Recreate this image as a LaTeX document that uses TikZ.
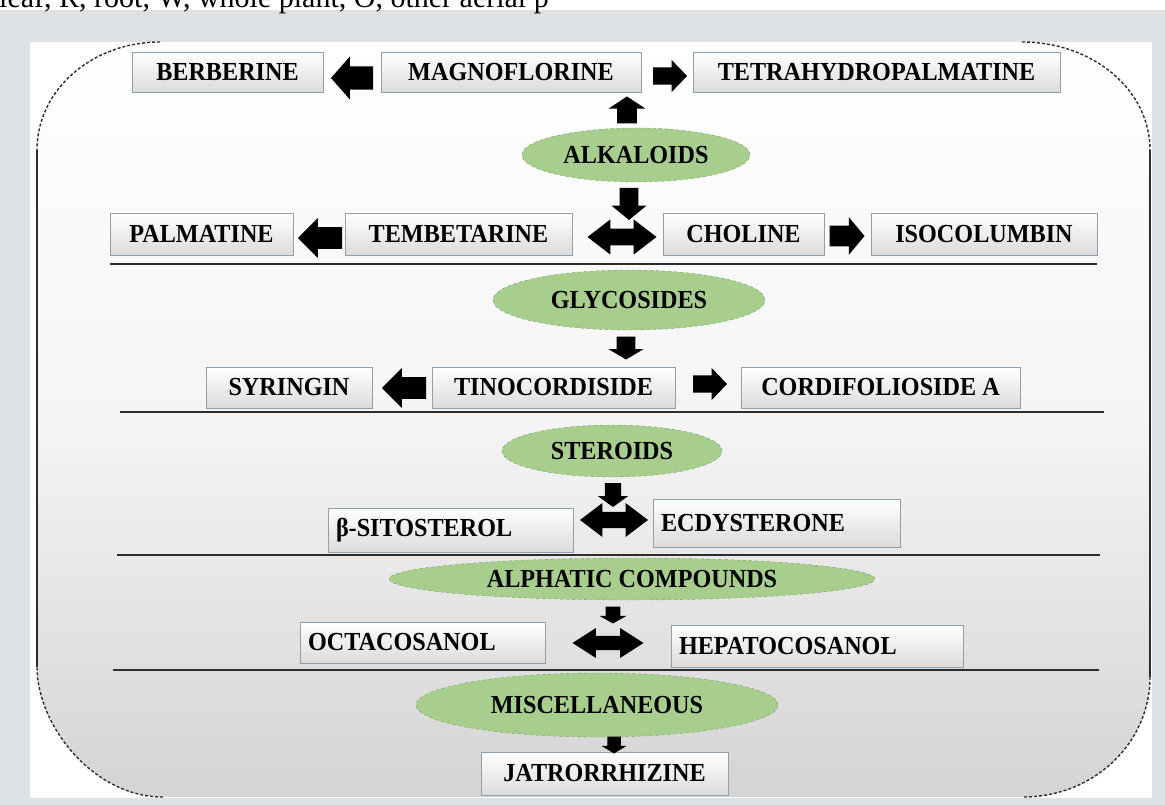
\documentclass[tikz,border=0pt]{standalone}
\usepackage{fontspec}
\setmainfont{Liberation Serif}
\newfontfamily\letrafig{Liberation Serif}[FakeStretch=0.93]
\usetikzlibrary{shapes.geometric}

\definecolor{fondogris}{RGB}{221,225,228}
\definecolor{verdeelipse}{RGB}{168,206,142}
\definecolor{bordeverde}{RGB}{118,158,98}
\definecolor{bordecaja}{RGB}{140,160,178}
\definecolor{linea}{RGB}{45,45,45}

\begin{document}
\begin{tikzpicture}[
    x=1pt, y=-1pt,
    every node/.style={font=\letrafig\fontsize{26}{30}\selectfont\bfseries},
    caja/.style={draw=bordecaja, line width=0.8pt, top color=white, bottom color=black!14, minimum height=41pt, inner xsep=8pt, inner ysep=0pt},
    grupo/.style={ellipse, draw=bordeverde, dashed, thin, fill=verdeelipse, inner sep=0pt},
    separador/.style={draw=linea, line width=1.8pt},
    flecha/.pic={\fill (-0.5,-0.27) -- (0.05,-0.27) -- (0.05,-0.5) -- (0.5,0) -- (0.05,0.5) -- (0.05,0.27) -- (-0.5,0.27) -- cycle;},
    dobleflecha/.pic={\fill (-0.5,0) -- (-0.17,-0.5) -- (-0.17,-0.24) -- (0.17,-0.24) -- (0.17,-0.5) -- (0.5,0) -- (0.17,0.5) -- (0.17,0.24) -- (-0.17,0.24) -- (-0.17,0.5) -- cycle;}
]
    \useasboundingbox (0,0) rectangle (1165,805);

    % Fondo
    \fill[white] (0,0) rectangle (1165,805);
    \fill[fondogris] (0,10) rectangle (1165,805);
    \fill[white] (30,42) rectangle (1152,798);
    \shade[top color=white, bottom color=black!17, middle color=black!4]
        (160,42) -- (1022,42) .. controls (1093,42) and (1150,90) .. (1150,150)
        -- (1150,677) .. controls (1150,743) and (1094,797) .. (1023,797)
        -- (163,797) .. controls (93,797) and (37,725) .. (37,667)
        -- (37,150) .. controls (37,90) and (92,42) .. (160,42) -- cycle;
    \draw[linea, densely dashed, line width=1.4pt] (160,42) .. controls (92,42) and (37,90) .. (37,150);
    \draw[linea, densely dashed, line width=1.4pt] (1022,42) .. controls (1093,42) and (1150,90) .. (1150,150);
    \draw[linea, densely dashed, line width=1.4pt] (1150,677) .. controls (1150,743) and (1094,797) .. (1023,797);
    \draw[linea, densely dashed, line width=1.4pt] (163,797) .. controls (93,797) and (37,725) .. (37,667);
    \draw[linea, line width=1.5pt] (37,150) -- (37,667);
    \draw[linea, line width=1.5pt] (1150,150) -- (1150,677);

    % Nota superior
    \node[font=\fontsize{30}{34}\selectfont, anchor=base west, inner sep=0pt] (nota) at (-1,8) {leaf, R, root, W, whole plant, O, other aerial p};

    % Separadores
    \draw[separador] (110,264) -- (1097,264);
    \draw[separador] (120,412) -- (1104,412);
    \draw[separador] (117,555) -- (1100,555);
    \draw[separador] (113,670) -- (1099,670);

    % Alcaloides
    \node[caja, minimum width=191pt, minimum height=40pt] (berberina) at (227.5,72) {BERBERINE};
    \node[caja, minimum width=260pt, minimum height=40pt] (magnoflorina) at (511,72) {MAGNOFLORINE};
    \node[caja, minimum width=367pt, minimum height=40pt] (tetrahidro) at (876.5,72) {TETRAHYDROPALMATINE};
    \node[grupo, minimum width=228pt, minimum height=54pt] (alcaloides) at (636,155) {ALKALOIDS};
    \node[caja, minimum width=183pt, minimum height=42pt] (palmatina) at (201.5,234) {PALMATINE};
    \node[caja, minimum width=227pt, minimum height=42pt] (tembetarina) at (458.5,234) {TEMBETARINE};
    \node[caja, minimum width=161pt, minimum height=42pt] (colina) at (743.5,234) {CHOLINE};
    \node[caja, minimum width=226pt, minimum height=42pt] (isocolumbina) at (984,234) {ISOCOLUMBIN};

    \pic[xscale=-42, yscale=43] at (352,78) {flecha};
    \pic[xscale=34, yscale=32] at (670,76) {flecha};
    \pic[rotate=90, xscale=27, yscale=37] at (627,110) {flecha};
    \pic[rotate=-90, xscale=32, yscale=35] at (629,204) {flecha};
    \pic[xscale=-44, yscale=40] at (320,238) {flecha};
    \pic[xscale=69, yscale=35] at (622,237) {dobleflecha};
    \pic[xscale=35, yscale=38] at (847,236) {flecha};

    % Glicosidos
    \node[grupo, minimum width=272pt, minimum height=60pt] (glicosidos) at (629,300) {GLYCOSIDES};
    \node[caja, minimum width=166pt] (siringina) at (289,387.5) {SYRINGIN};
    \node[caja, minimum width=243pt] (tinocordisido) at (553.5,387.5) {TINOCORDISIDE};
    \node[caja, minimum width=279pt] (cordifoliosido) at (880.5,387.5) {CORDIFOLIOSIDE A};

    \pic[rotate=-90, xscale=23, yscale=35] at (626,348) {flecha};
    \pic[xscale=-44, yscale=40] at (404,388) {flecha};
    \pic[xscale=34, yscale=32] at (710,384) {flecha};

    % Esteroides
    \node[grupo, minimum width=220pt, minimum height=52pt] (esteroides) at (612,451) {STEROIDS};
    \node[caja, minimum width=245pt, minimum height=44pt, text width=229pt, align=left] (sitosterol) at (450.5,530) {β-SITOSTEROL};
    \node[caja, minimum width=247pt, minimum height=48pt, text width=231pt, align=left] (ecdisterona) at (776.5,523) {ECDYSTERONE};

    \pic[rotate=-90, xscale=24, yscale=30] at (613,495) {flecha};
    \pic[xscale=68, yscale=34] at (614,520) {dobleflecha};

    % Compuestos alifaticos
    \node[grupo, minimum width=486pt, minimum height=42pt] (alifaticos) at (632,579) {ALPHATIC COMPOUNDS};
    \node[caja, minimum width=245pt, text width=229pt, align=left] (octacosanol) at (422.5,642.5) {OCTACOSANOL};
    \node[caja, minimum width=292pt, minimum height=42pt, text width=276pt, align=left] (hepatocosanol) at (817,646) {HEPATOCOSANOL};

    \pic[rotate=-90, xscale=17, yscale=27] at (613,615) {flecha};
    \pic[xscale=71, yscale=30] at (608,643) {dobleflecha};

    % Miscelaneos
    \node[grupo, minimum width=362pt, minimum height=64pt] (miscelaneos) at (597,705) {MISCELLANEOUS};
    \node[caja, minimum width=247pt, minimum height=43pt] (jatrorrizina) at (604.5,773.5) {JATRORRHIZINE};

    \pic[rotate=-90, xscale=17, yscale=25] at (614,745) {flecha};
\end{tikzpicture}
\end{document}
